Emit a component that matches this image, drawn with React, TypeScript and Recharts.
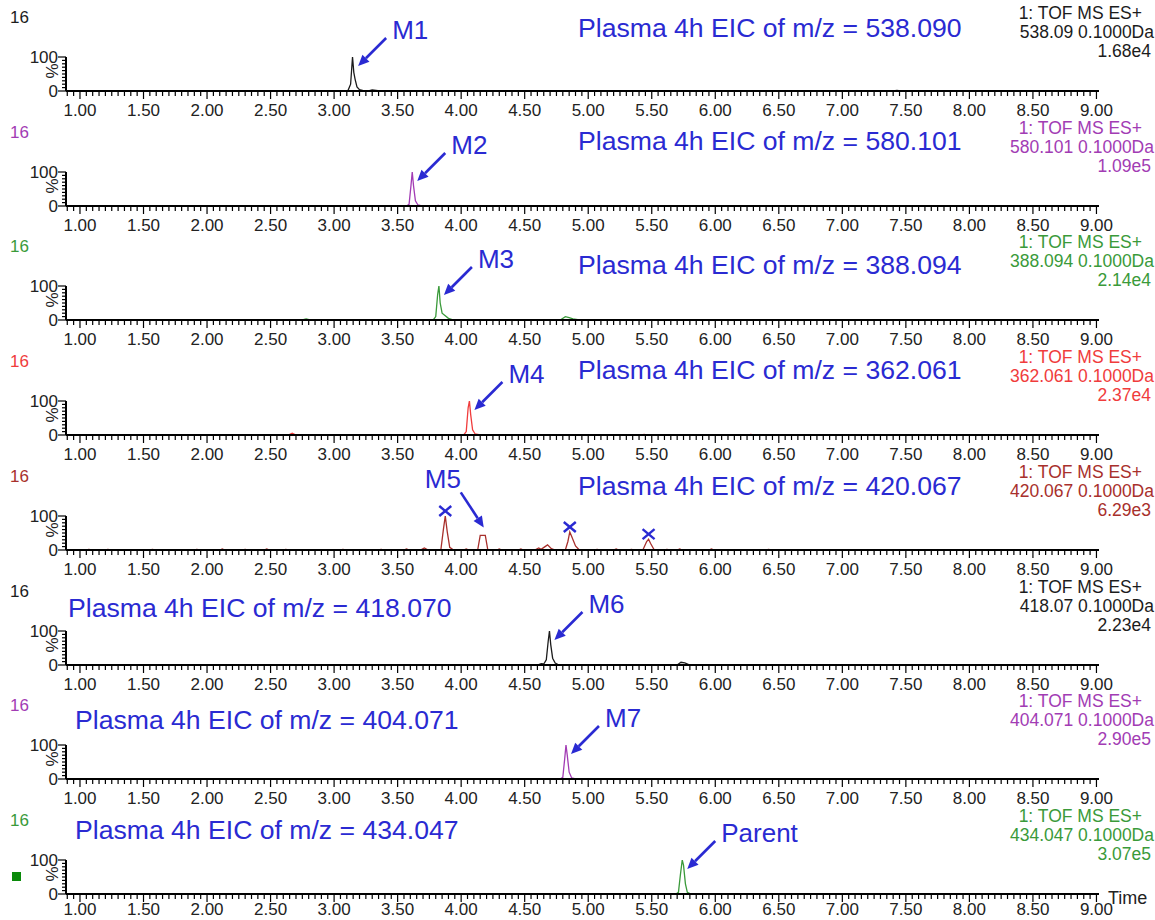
import { LineChart, Line, XAxis, YAxis, ReferenceDot } from 'recharts';

// retention times (min) and relative intensities (%)
const TIME_1 = [0.9, 3.08, 3.11, 3.13, 3.145, 3.155, 3.165, 3.18, 3.2, 3.23, 3.27, 3.3, 3.33, 3.36, 7.4, 7.43, 7.46, 9.0];
const INT_1 = [0, 0, 2, 20, 100, 55, 35, 12, 4, 1, 0, 3, 2, 0, 0, 2, 0, 0];

const TIME_2 = [0.9, 3.57, 3.59, 3.605, 3.615, 3.625, 3.64, 3.66, 3.69, 3.8, 3.82, 3.84, 9.0];
const INT_2 = [0, 0, 5, 60, 100, 60, 15, 3, 0, 0, 2, 0, 0];

const TIME_3 = [0.9, 2.75, 2.78, 2.81, 3.78, 3.8, 3.815, 3.825, 3.835, 3.85, 3.87, 3.9, 3.94, 4.78, 4.82, 4.85, 4.88, 4.93, 9.0];
const INT_3 = [0, 0, 3, 0, 0, 10, 75, 100, 50, 20, 14, 5, 0, 0, 10, 7, 3, 0, 0];

const TIME_4 = [0.9, 2.64, 2.67, 2.7, 4.02, 4.04, 4.055, 4.065, 4.075, 4.09, 4.11, 4.15, 5.42, 5.44, 5.46, 6.26, 6.28, 6.3, 9.0];
const INT_4 = [0, 0, 5, 0, 0, 10, 80, 100, 60, 15, 3, 0, 0, 2, 0, 0, 2, 0, 0];

const TIME_5 = [
  0.9, 1.05, 1.07, 1.09, 1.2, 1.22, 1.24, 1.38, 1.4, 1.42, 1.55, 1.57, 1.59, 1.72, 1.74, 1.76,
  1.9, 1.92, 1.94, 2.1, 2.12, 2.14, 2.28, 2.3, 2.32, 2.45, 2.47, 2.49, 2.6, 2.62, 2.64,
  2.8, 2.82, 2.84, 3.05, 3.07, 3.09, 3.2, 3.22, 3.24, 3.35, 3.37, 3.39, 3.55, 3.57, 3.59,
  3.68, 3.71, 3.74, 3.84, 3.86, 3.875, 3.89, 3.91, 3.94, 4.02, 4.04, 4.06, 4.13, 4.15, 4.19, 4.21,
  4.28, 4.3, 4.32, 4.45, 4.47, 4.49, 4.58, 4.61, 4.63, 4.66, 4.68, 4.71, 4.74, 4.82, 4.84, 4.855,
  4.87, 4.9, 4.93, 5.05, 5.07, 5.09, 5.2, 5.22, 5.24, 5.32, 5.34, 5.36, 5.43, 5.46, 5.475, 5.49,
  5.52, 5.6, 5.62, 5.64, 5.7, 5.72, 5.74, 5.95, 5.97, 5.99, 6.4, 6.42, 6.44, 9.0,
];
const INT_5 = [
  0, 0, 2, 0, 0, 2, 0, 0, 1, 0, 0, 2, 0, 0, 1, 0,
  0, 2, 0, 0, 3, 0, 0, 2, 0, 0, 3, 0, 0, 2, 0,
  0, 1, 0, 0, 2, 0, 0, 1, 0, 0, 2, 0, 0, 3, 0,
  0, 6, 0, 0, 60, 100, 55, 8, 0, 0, 3, 0, 0, 43, 43, 0,
  0, 3, 0, 0, 3, 0, 0, 6, 2, 10, 15, 4, 0, 0, 25, 53,
  40, 12, 0, 0, 2, 0, 0, 3, 0, 0, 2, 0, 0, 25, 32, 20,
  0, 0, 2, 0, 0, 3, 0, 0, 3, 0, 0, 2, 0, 0,
];

const TIME_6 = [0.9, 4.6, 4.63, 4.65, 4.67, 4.685, 4.695, 4.705, 4.72, 4.74, 4.77, 5.7, 5.73, 5.76, 5.8, 9.0];
const INT_6 = [0, 0, 4, 3, 15, 70, 100, 60, 20, 6, 0, 0, 8, 6, 0, 0];

const TIME_7 = [0.9, 4.78, 4.8, 4.815, 4.825, 4.835, 4.85, 4.87, 4.9, 9.0];
const INT_7 = [0, 0, 5, 60, 100, 70, 20, 3, 0, 0];

const TIME_8 = [0.9, 5.69, 5.71, 5.725, 5.74, 5.75, 5.765, 5.78, 5.81, 9.0];
const INT_8 = [0, 0, 5, 55, 100, 85, 30, 5, 0, 0];

const MZ = ['538.090', '580.101', '388.094', '362.061', '420.067', '418.070', '404.071', '434.047'];
const CHANNEL = ['538.09', '580.101', '388.094', '362.061', '420.067', '418.07', '404.071', '434.047'];
const MAX_INT = ['1.68e4', '1.09e5', '2.14e4', '2.37e4', '6.29e3', '2.23e4', '2.90e5', '3.07e5'];

const X_LABELS = ['1.00', '1.50', '2.00', '2.50', '3.00', '3.50', '4.00', '4.50', '5.00', '5.50', '6.00', '6.50', '7.00', '7.50', '8.00', '8.50', '9.00'];
const X_TICKS: number[] = [];
for (let i = 18; i <= 180; i++) X_TICKS.push(i / 20);
const Y_TICKS = [0, 10, 20, 30, 40, 50, 60, 70, 80, 90, 100];

// labelled peaks: [panel, time, intensity, label]
const PEAK_LABELS: [number, number, number, string][] = [
  [0, 3.15, 100, 'M1'],
  [1, 3.615, 100, 'M2'],
  [2, 3.825, 100, 'M3'],
  [3, 4.065, 100, 'M4'],
  [5, 4.695, 100, 'M6'],
  [6, 4.825, 100, 'M7'],
  [7, 5.74, 100, 'Parent'],
];
const M5_PEAK = [4.17, 43];
const CROSS_PEAKS = [
  [3.875, 100],
  [4.855, 53],
  [5.475, 32],
];

const BLACK = '#1c1c1c';
const PURPLE = '#a23cb4';
const GREEN = '#3a9a3a';
const RED = '#f03c3c';
const DARK_RED = '#a8302c';
const BLUE = '#2a2ad2';
const FONT = '"Liberation Sans", Arial, sans-serif';

const PANELS = [
  { time: TIME_1, int: INT_1, color: BLACK, titleX: 578, titleY: 28 },
  { time: TIME_2, int: INT_2, color: PURPLE, titleX: 578, titleY: 26 },
  { time: TIME_3, int: INT_3, color: GREEN, titleX: 578, titleY: 36 },
  { time: TIME_4, int: INT_4, color: RED, titleX: 578, titleY: 26 },
  { time: TIME_5, int: INT_5, color: DARK_RED, titleX: 578, titleY: 27 },
  { time: TIME_6, int: INT_6, color: BLACK, titleX: 68, titleY: 34 },
  { time: TIME_7, int: INT_7, color: PURPLE, titleX: 75, titleY: 32 },
  { time: TIME_8, int: INT_8, color: GREEN, titleX: 75, titleY: 27 },
];

const PANEL_STEP = 114.7;
const CHART_W = 1155;
const CHART_H = 125;

const makeXTick = (labelDy: number) => (props: any) => {
  const { x, y, payload } = props;
  const v = payload.value;
  const major = Math.abs(v * 2 - Math.round(v * 2)) < 1e-6;
  return (
    <g>
      <line x1={x} x2={x} y1={y} y2={y + (major ? 8 : 5)} stroke="#000" strokeWidth={1.2} />
      {major && (
        <text x={x} y={y + labelDy} textAnchor="middle" fontSize={17} fontFamily={FONT} fill="#222">
          {X_LABELS[Math.round((v - 1) * 2)]}
        </text>
      )}
    </g>
  );
};

const YTick = (props: any) => {
  const { x, y, payload } = props;
  const v = payload.value;
  const end = v === 0 || v === 100;
  return (
    <g>
      <line x1={x - (end ? 8 : 4)} x2={x} y1={y} y2={y} stroke="#000" strokeWidth={1.2} />
      {end && (
        <text x={x - 8} y={y} dy="0.35em" textAnchor="end" fontSize={17} fontFamily={FONT} fill="#222">
          {v}
        </text>
      )}
      {v === 50 && (
        <text x={x - 11} y={y} textAnchor="middle" dy="0.35em" fontSize={17} fontFamily={FONT} fill="#222"
          transform={`rotate(-90 ${x - 14} ${y})`}>
          %
        </text>
      )}
    </g>
  );
};

const arrow = (x1: number, y1: number, x2: number, y2: number) => {
  const dx = x2 - x1;
  const dy = y2 - y1;
  const len = Math.hypot(dx, dy);
  const ux = dx / len;
  const uy = dy / len;
  const hl = 11;
  const hw = 5;
  const bx = x2 - ux * hl;
  const by = y2 - uy * hl;
  return (
    <g>
      <line x1={x1} y1={y1} x2={bx} y2={by} stroke={BLUE} strokeWidth={2.6} />
      <polygon
        points={`${x2},${y2} ${bx - uy * hw},${by + ux * hw} ${bx + uy * hw},${by - ux * hw}`}
        fill={BLUE}
      />
    </g>
  );
};

const peakLabel = (label: string) => (props: any) => {
  const { cx, cy } = props;
  return (
    <g>
      {arrow(cx + 33, cy - 19, cx + 5, cy + 9)}
      <text x={cx + 39} y={cy - 27} dy="0.35em" fontSize={26} fontFamily={FONT} fill={BLUE}>
        {label}
      </text>
    </g>
  );
};

const m5Label = (props: any) => {
  const { cx, cy } = props;
  return (
    <g>
      {arrow(cx - 22, cy - 43, cx + 1, cy - 8)}
      <text x={cx - 58} y={cy - 56} dy="0.35em" fontSize={26} fontFamily={FONT} fill={BLUE}>
        M5
      </text>
    </g>
  );
};

const crossMark = (props: any) => {
  const { cx, cy } = props;
  const c = cy - 5;
  return (
    <g stroke={BLUE} strokeWidth={2.4}>
      <line x1={cx - 6} y1={c - 5} x2={cx + 6} y2={c + 5} />
      <line x1={cx - 6} y1={c + 5} x2={cx + 6} y2={c - 5} />
    </g>
  );
};

const Panel = ({ index }: { index: number }) => {
  const p = PANELS[index];
  const data = p.time.map((t, i) => ({ t, v: p.int[i] }));
  const top = index * PANEL_STEP;
  const last = index === PANELS.length - 1;
  const XTick = makeXTick(last ? 21 : 25);
  const small = { position: 'absolute' as const, fontSize: 17.5, fontFamily: FONT, color: p.color, lineHeight: '17px', whiteSpace: 'nowrap' as const };
  return (
    <div style={{ position: 'absolute', left: 0, top, width: CHART_W, height: CHART_H }}>
      <LineChart width={CHART_W} height={CHART_H} data={data} margin={{ top: 57, right: 56, left: 0, bottom: 0 }}>
        <XAxis
          dataKey="t"
          type="number"
          domain={[0.89, 9.02]}
          ticks={X_TICKS}
          interval={0}
          tick={<XTick />}
          tickLine={false}
          tickSize={0}
          tickMargin={0}
          height={34}
          axisLine={{ stroke: '#000', strokeWidth: 2 }}
          allowDataOverflow
        />
        <YAxis
          type="number"
          domain={[0, 100]}
          ticks={Y_TICKS}
          interval={0}
          tick={<YTick />}
          tickLine={false}
          tickSize={0}
          tickMargin={0}
          width={66}
          axisLine={{ stroke: '#000', strokeWidth: 2 }}
          allowDataOverflow
        />
        <Line type="linear" dataKey="v" stroke={p.color} strokeWidth={1.3} dot={false} isAnimationActive={false} />
        {PEAK_LABELS.filter((a) => a[0] === index).map((a) => (
          <ReferenceDot key={a[3]} x={a[1]} y={a[2]} r={0} shape={peakLabel(a[3])} />
        ))}
        {index === 4 && <ReferenceDot x={M5_PEAK[0]} y={M5_PEAK[1]} r={0} shape={m5Label} />}
        {index === 4 &&
          CROSS_PEAKS.map((c) => <ReferenceDot key={c[0]} x={c[0]} y={c[1]} r={0} shape={crossMark} />)}
      </LineChart>
      <div style={{ ...small, fontSize: 17, left: 10, top: 9 }}>16</div>
      <div
        style={{
          position: 'absolute',
          left: p.titleX,
          top: p.titleY - 13,
          fontSize: 26.6,
          lineHeight: '26px',
          fontFamily: FONT,
          color: BLUE,
          whiteSpace: 'nowrap',
        }}
      >
        {`Plasma 4h EIC of m/z = ${MZ[index]}`}
      </div>
      <div style={{ ...small, right: 1155 - 1142, top: 5 }}>1: TOF MS ES+</div>
      <div style={{ ...small, right: 1155 - 1154, top: 24 }}>{`${CHANNEL[index]} 0.1000Da`}</div>
      <div style={{ ...small, right: 1155 - 1151, top: 43 }}>{MAX_INT[index]}</div>
    </div>
  );
};

export default function App() {
  return (
    <div style={{ position: 'absolute', left: 0, top: 0, width: 1155, height: 920, background: '#fff', overflow: 'hidden' }}>
      {PANELS.map((_p, i) => (
        <Panel key={i} index={i} />
      ))}
      <div style={{ position: 'absolute', left: 12, top: 872, width: 9, height: 9, background: '#0a8a0a' }} />
      <div style={{ position: 'absolute', left: 1108, top: 888, fontSize: 18, fontFamily: FONT, color: '#222' }}>Time</div>
    </div>
  );
}
